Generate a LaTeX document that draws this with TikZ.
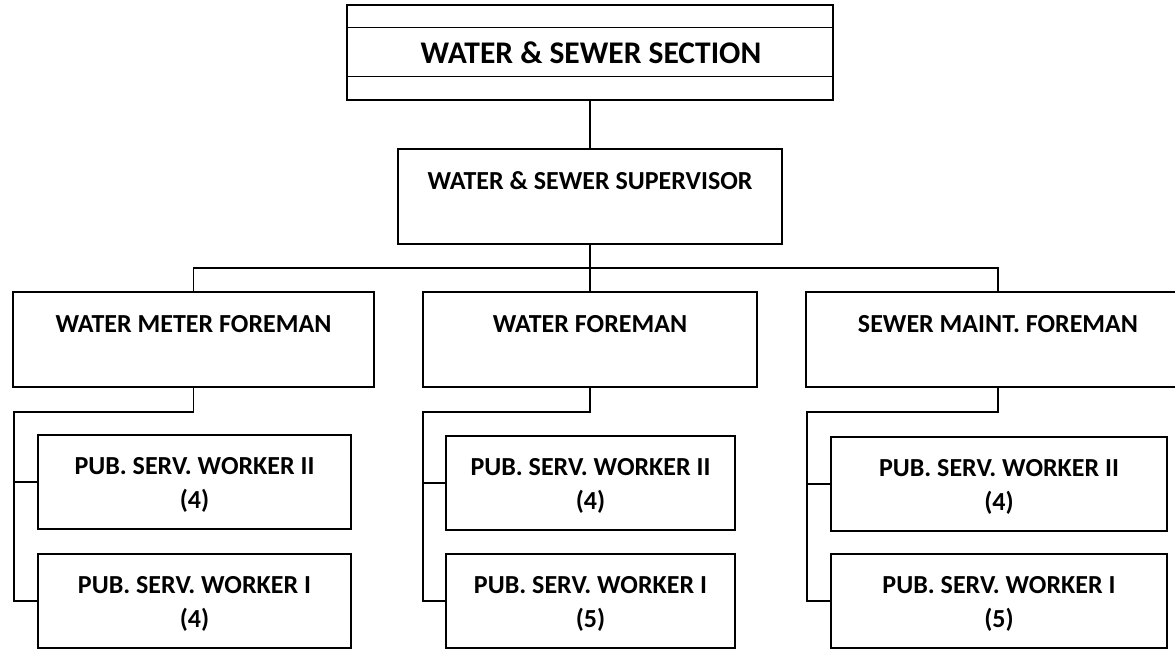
\documentclass[tikz,border=0pt]{standalone}
\usepackage{fontspec}
\setmainfont{Carlito}
\tikzset{
  post/.style={draw, line width=1.4pt, inner sep=0pt},
  link/.style={line width=1.4pt},
  headline/.style={font=\fontsize{31.5}{37}\selectfont\bfseries, inner sep=0pt, anchor=base},
  caption/.style={font=\fontsize{26}{34}\selectfont\bfseries, inner sep=0pt, align=center},
}
\begin{document}
\begin{tikzpicture}[x=1pt,y=-1pt]
  \useasboundingbox (0,0) rectangle (1175,649);
  % section
  \node[post, minimum width=486pt, minimum height=95pt] (section) at (590,52.5) {};
  \draw[link] ([yshift=-23pt]section.north west) -- ([yshift=-23pt]section.north east);
  \draw[link] ([yshift=24pt]section.south west) -- ([yshift=24pt]section.south east);
  \node[headline] (sectionT) at (591,63) {WATER \& SEWER SECTION};
  % supervisor
  \node[post, minimum width=384pt, minimum height=95pt] (super) at (590,196.5) {};
  \node[caption, anchor=base] (superT) at (590,189) {WATER \& SEWER SUPERVISOR};
  % foremen
  \node[post, minimum width=361pt, minimum height=95pt] (meter) at (193.5,339.5) {};
  \node[post, minimum width=334pt, minimum height=95pt] (water) at (590,339.5) {};
  \node[post, minimum width=384pt, minimum height=95pt] (sewer) at (998,339.5) {};
  \node[caption, anchor=base] (meterT) at (193.5,332) {WATER METER FOREMAN};
  \node[caption, anchor=base] (waterT) at (590,332) {WATER FOREMAN};
  \node[caption, anchor=base] (sewerT) at (998,332) {SEWER MAINT. FOREMAN};
  % workers
  \node[post, minimum width=313pt, minimum height=94pt] (meterA) at (194.5,482) {};
  \node[post, minimum width=313pt, minimum height=94pt] (meterB) at (194.5,601) {};
  \node[post, minimum width=289pt, minimum height=94pt] (waterA) at (590.5,483) {};
  \node[post, minimum width=289pt, minimum height=94pt] (waterB) at (590.5,601) {};
  \node[post, minimum width=336pt, minimum height=94pt] (sewerA) at (999,484) {};
  \node[post, minimum width=336pt, minimum height=94pt] (sewerB) at (999,601) {};
  \node[caption, anchor=north] (meterAT) at ([yshift=-22.6pt]meterA.north) {PUB. SERV. WORKER II\\(4)};
  \node[caption, anchor=north] (meterBT) at ([yshift=-22.6pt]meterB.north) {PUB. SERV. WORKER I\\(4)};
  \node[caption, anchor=north] (waterAT) at ([yshift=-22.6pt]waterA.north) {PUB. SERV. WORKER II\\(4)};
  \node[caption, anchor=north] (waterBT) at ([yshift=-22.6pt]waterB.north) {PUB. SERV. WORKER I\\(5)};
  \node[caption, anchor=north] (sewerAT) at ([yshift=-22.6pt]sewerA.north) {PUB. SERV. WORKER II\\(4)};
  \node[caption, anchor=north] (sewerBT) at ([yshift=-22.6pt]sewerB.north) {PUB. SERV. WORKER I\\(5)};
  % links
  \coordinate (bus) at (590,268);
  \coordinate (meterJ) at (14,412);
  \coordinate (waterJ) at (423,412);
  \coordinate (sewerJ) at (807,412);
  \draw[link] (section.south) -- (super.north);
  \draw[link] (super.south) -- (water.north);
  \draw[link] (meter.north) |- (bus) -| (sewer.north);
  \draw[link] (meter.south) |- (meterJ) |- (meterB.west);
  \draw[link] (meterJ |- meterA.west) -- (meterA.west);
  \draw[link] (water.south) |- (waterJ) |- (waterB.west);
  \draw[link] (waterJ |- waterA.west) -- (waterA.west);
  \draw[link] (sewer.south) |- (sewerJ) |- (sewerB.west);
  \draw[link] (sewerJ |- sewerA.west) -- (sewerA.west);
\end{tikzpicture}
\end{document}
